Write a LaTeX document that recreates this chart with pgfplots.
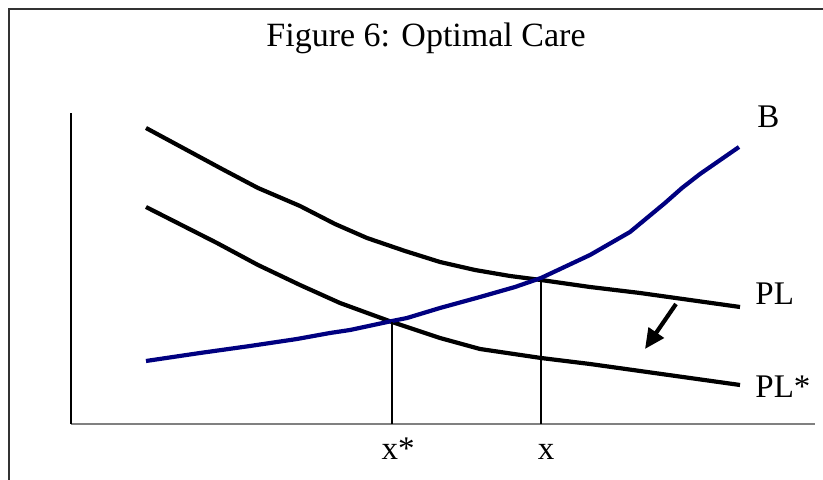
\documentclass[border=0pt]{standalone}
\usepackage{pgfplots}
\pgfplotsset{compat=1.18}
\usepackage{fontspec}
\setmainfont{Liberation Serif}
\usetikzlibrary{arrows.meta}
\definecolor{bnavy}{RGB}{0,0,128}
\definecolor{axgray}{RGB}{128,128,128}
\definecolor{framegray}{RGB}{50,50,50}
\begin{document}
\begin{tikzpicture}
\begin{axis}[
  scale only axis,
  width=372pt, height=155.5pt,
  xmin=71, xmax=815, ymin=56, ymax=367,
  axis x line=bottom, axis y line=left,
  x axis line style={-, color=axgray, line width=1pt},
  y axis line style={-, color=black, line width=0.6pt},
  xtick=\empty, ytick=\empty,
  clip=false,
  every axis plot/.append style={line join=round, line cap=butt},
]
% PL
\addplot[black, line width=2.1pt] coordinates {
(146,352)(222,311)(258,292)(300,274)(335,256)(367,242)(405,229)(440,218)
(475,210)(510,204)(541,200)(590,193)(640,187)(690,180)(740,173)};
% PL*
\addplot[black, line width=2.1pt] coordinates {
(146,273)(217,237)(258,215)(300,195)(340,177)(392,158)(440,142)(480,131)
(541,122)(590,116)(640,109)(690,102)(740,95)};
% B
\addplot[bnavy, line width=2.1pt] coordinates {
(146,119)(200,127)(250,134)(297,141)(330,147)(350,150)(392,159)(407,162)(440,172)
(480,183)(515,193)(541,202)(590,225)(630,248)(665,277)(682,292)(700,306)(739,333)};
% verticals
\addplot[black, line width=0.7pt] coordinates {(392,56)(392,158)};
\addplot[black, line width=0.7pt] coordinates {(541,56)(541,200)};
% arrow
\draw[line width=2.1pt, -{Triangle[length=10pt, width=9pt]}] (axis cs:676,176) -- (axis cs:645,131);
% frame
\draw[framegray, line width=1.2pt] (axis cs:9,-20) -- (axis cs:9,471) -- (axis cs:840,471);
% texts
\node[anchor=base, inner sep=0pt, font=\fontsize{17pt}{20pt}\selectfont] at (axis cs:426,433) {Figure 6: Optimal Care};
\node[anchor=base west, inner sep=0pt, font=\fontsize{16.5pt}{19pt}\selectfont] at (axis cs:757,352) {B};
\node[anchor=base west, inner sep=0pt, font=\fontsize{16.5pt}{19pt}\selectfont] at (axis cs:755,175) {PL};
\node[anchor=base west, inner sep=0pt, font=\fontsize{16.5pt}{19pt}\selectfont] at (axis cs:755,82) {PL*};
\node[anchor=base, inner sep=0pt, font=\fontsize{16.5pt}{19pt}\selectfont] at (axis cs:398,20) {x*};
\node[anchor=base, inner sep=0pt, font=\fontsize{16.5pt}{19pt}\selectfont] at (axis cs:546,20) {x};
\coordinate (bl) at (axis cs:0,0);
\coordinate (tr) at (axis cs:823,480);
\end{axis}
\pgfresetboundingbox
\path[use as bounding box] (bl) rectangle (tr);
\end{tikzpicture}
\end{document}
